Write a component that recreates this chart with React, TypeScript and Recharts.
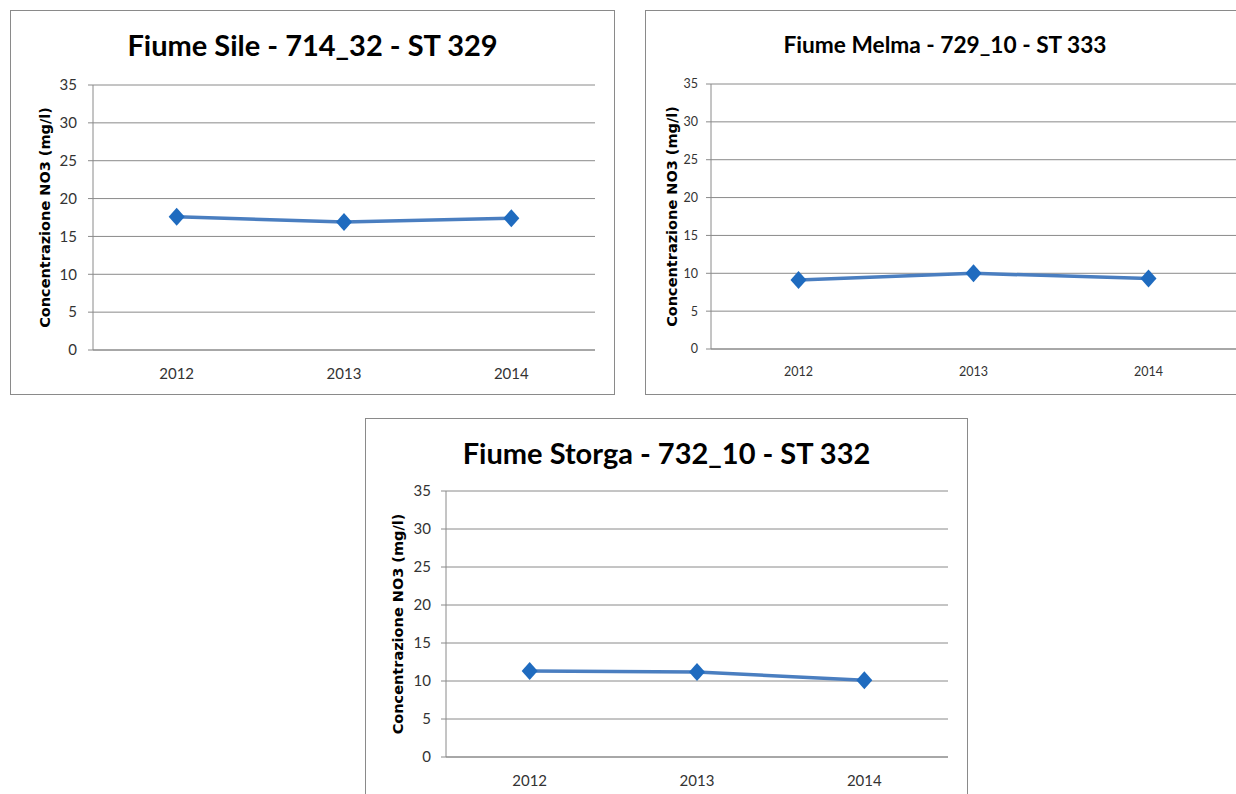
import { CartesianGrid, Line, LineChart, XAxis, YAxis } from "recharts"

const years = ["2012", "2013", "2014"]
const sileNO3 = [17.6, 16.9, 17.4]
const melmaNO3 = [9.1, 10.0, 9.3]
const storgaNO3 = [11.3, 11.2, 10.1]
const yTicks = [0, 5, 10, 15, 20, 25, 30, 35]
// category boundaries, where the x axis gets its small tick marks
const yearSlots = [0, 1, 2, 3]

const AXIS_TITLE = "Concentrazione NO3 (mg/l)"

const LINE_BLUE = "#4a7ec0"
const MARKER_BLUE = "#1f6bbf"
const GRID = "#8a8a8a"
const TICK_FONT = "Lato, 'Open Sans', sans-serif"
const TITLE_FONT = "Lato, 'Open Sans', sans-serif"
const AXIS_TITLE_FONT = "'DejaVu Sans', Verdana, sans-serif"

type Box = { left: number; top: number; width: number; height: number }
type Plot = { left: number; top: number; right: number; bottom: number }

interface StationChartProps {
  title: string
  values: number[]
  box: Box
  plot: Plot
  titleSize: number
  titleY: number
  tickFontSize: number
  yTickMargin: number
  axisTitleX: number
}

function Diamond(props: any) {
  const { cx, cy, index } = props
  if (cx == null || cy == null) return null
  return (
    <polygon
      key={`marker-${index}`}
      points={`${cx},${cy - 9} ${cx + 8},${cy} ${cx},${cy + 9} ${cx - 8},${cy}`}
      fill={MARKER_BLUE}
    />
  )
}

function StationChart({
  title,
  values,
  box,
  plot,
  titleSize,
  titleY,
  tickFontSize,
  yTickMargin,
  axisTitleX,
}: StationChartProps) {
  const data = years.map((year, i) => ({ year, value: values[i] }))
  const yAxisWidth = 40
  const xAxisHeight = 30
  const band = (plot.right - plot.left) / years.length
  const margin = {
    top: plot.top - box.top,
    left: plot.left - box.left - yAxisWidth,
    right: box.left + box.width - plot.right,
    bottom: box.top + box.height - plot.bottom - xAxisHeight,
  }
  const labelX = axisTitleX - box.left
  const labelY = (plot.top + plot.bottom) / 2 - box.top

  return (
    <>
      <div
        style={{
          position: "absolute",
          left: box.left,
          top: box.top,
          width: box.width,
          height: box.height,
          border: `1.5px solid ${GRID}`,
          boxSizing: "border-box",
          background: "#fff",
        }}
      />
      <div
        style={{
          position: "absolute",
          left: box.left,
          top: box.top + titleY - titleSize * 0.6,
          width: box.width,
          textAlign: "center",
          fontFamily: TITLE_FONT,
          fontWeight: "bold",
          fontSize: titleSize,
          lineHeight: `${titleSize * 1.2}px`,
          color: "#000",
          whiteSpace: "nowrap",
        }}
      >
        {title}
      </div>
      <div style={{ position: "absolute", left: box.left, top: box.top }}>
        <LineChart width={box.width} height={box.height} data={data} margin={margin}>
          <CartesianGrid vertical={false} stroke={GRID} strokeWidth={1} />
          <XAxis
            xAxisId="slots"
            type="number"
            domain={[0, 3]}
            ticks={yearSlots}
            allowDataOverflow
            tick={false}
            axisLine={false}
            tickLine={{ stroke: GRID }}
            tickSize={6}
            height={0}
          />
          <XAxis
            dataKey="year"
            padding={{ left: band / 2, right: band / 2 }}
            axisLine={{ stroke: GRID }}
            tickLine={false}
            tickSize={6}
            tickMargin={12}
            height={xAxisHeight}
            tick={{ fill: "#333", fontSize: tickFontSize, fontFamily: TICK_FONT }}
          />
          <YAxis
            domain={[0, 35]}
            ticks={yTicks}
            width={yAxisWidth}
            axisLine={{ stroke: GRID }}
            tickLine={{ stroke: GRID }}
            tickSize={5}
            tickMargin={yTickMargin}
            tick={{ fill: "#333", fontSize: tickFontSize, fontFamily: TICK_FONT }}
            label={{
              content: () => (
                <text
                  x={labelX}
                  y={labelY}
                  transform={`rotate(-90 ${labelX} ${labelY})`}
                  textAnchor="middle"
                  dominantBaseline="central"
                  fontFamily={AXIS_TITLE_FONT}
                  fontWeight="bold"
                  fontSize={14.5}
                  fill="#000"
                >
                  {AXIS_TITLE}
                </text>
              ),
            }}
          />
          <Line
            type="linear"
            dataKey="value"
            stroke={LINE_BLUE}
            strokeWidth={3.5}
            dot={Diamond}
            activeDot={false}
            isAnimationActive={false}
          />
        </LineChart>
      </div>
    </>
  )
}

export default function App() {
  return (
    <div style={{ position: "relative", width: 1236, height: 794, overflow: "hidden", background: "#fff" }}>
      <style>{"body { margin: 0; }"}</style>
      <StationChart
        title="Fiume Sile - 714_32 - ST 329"
        values={sileNO3}
        box={{ left: 10, top: 10, width: 605, height: 385 }}
        plot={{ left: 93, top: 85, right: 595, bottom: 350 }}
        titleSize={29}
        titleY={35}
        tickFontSize={15}
        yTickMargin={11}
        axisTitleX={45}
      />
      <StationChart
        title="Fiume Melma - 729_10 - ST 333"
        values={melmaNO3}
        box={{ left: 645, top: 10, width: 600, height: 385 }}
        plot={{ left: 711, top: 84, right: 1236, bottom: 349 }}
        titleSize={22.7}
        titleY={35}
        tickFontSize={12.5}
        yTickMargin={8}
        axisTitleX={672}
      />
      <StationChart
        title="Fiume Storga - 732_10 - ST 332"
        values={storgaNO3}
        box={{ left: 365, top: 418, width: 603, height: 400 }}
        plot={{ left: 446, top: 491, right: 948, bottom: 757 }}
        titleSize={29}
        titleY={35}
        tickFontSize={15}
        yTickMargin={10}
        axisTitleX={398}
      />
    </div>
  )
}
